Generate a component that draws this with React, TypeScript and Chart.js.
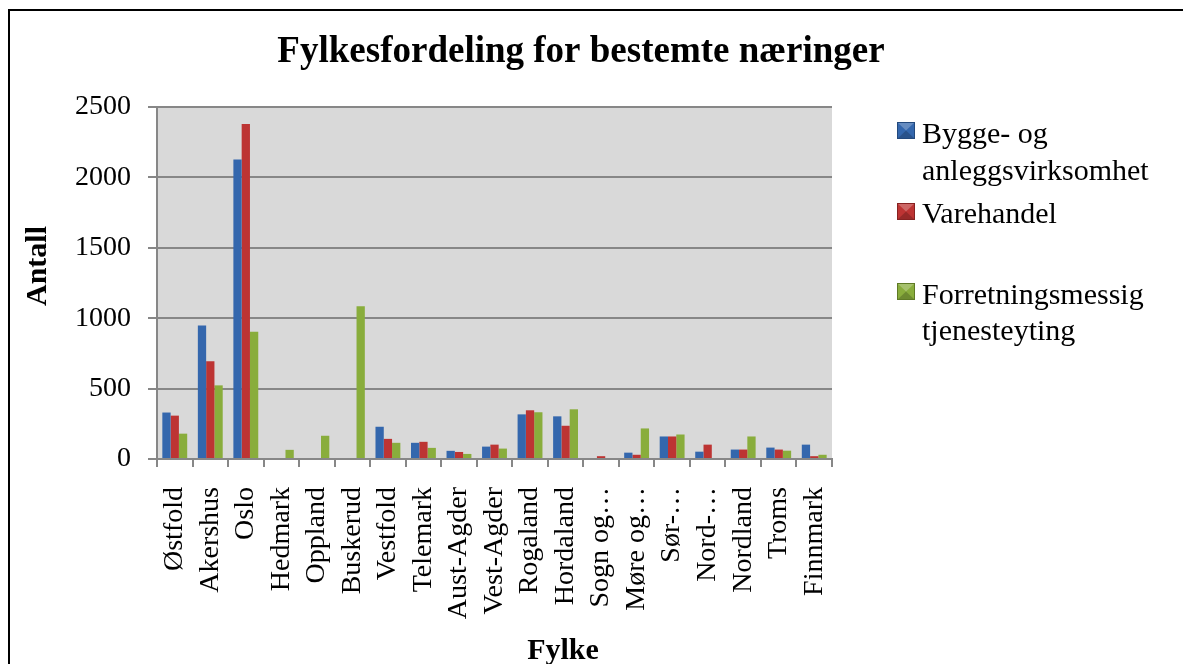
import React, { useEffect, useRef } from "react";
import { Chart, registerables } from "chart.js";

Chart.register(...registerables);

const categories = [
  "Østfold", "Akershus", "Oslo", "Hedmark", "Oppland", "Buskerud", "Vestfold",
  "Telemark", "Aust-Agder", "Vest-Agder", "Rogaland", "Hordaland", "Sogn og…",
  "Møre og…", "Sør-…", "Nord-…", "Nordland", "Troms", "Finnmark",
];
const byggeValues = [330, 948, 2128, 0, 0, 0, 229, 115, 58, 88, 317, 303, 0, 45, 160, 52, 67, 81, 102];
const varehandelValues = [308, 695, 2379, 0, 0, 0, 143, 122, 50, 102, 346, 236, 20, 30, 160, 102, 67, 67, 20];
const forretningValues = [180, 523, 903, 65, 165, 1084, 115, 79, 36, 74, 332, 353, 0, 217, 174, 0, 160, 59, 30];
const yTicks = [0, 500, 1000, 1500, 2000, 2500];
const seriesNames = ["Bygge- og anleggsvirksomhet", "Varehandel", "Forretningsmessig tjenesteyting"];
const legendLines = [["Bygge- og", "anleggsvirksomhet"], ["Varehandel"], ["Forretningsmessig", "tjenesteyting"]];
const chartTitle = "Fylkesfordeling for bestemte næringer";
const xTitle = "Fylke";
const yTitle = "Antall";

const FONT = "'Liberation Serif', 'Times New Roman', serif";
const COLORS = ["#3467ad", "#bd3433", "#89ad3c"];
const DARK = ["#23497d", "#862221", "#5f7a26"];
const GRID = "#878787";

const decorPlugin = {
  id: "decor",
  beforeDraw(chart: any) {
    const { ctx, chartArea: a } = chart;
    ctx.save();
    ctx.fillStyle = "#d9d9d9";
    ctx.fillRect(a.left, a.top, a.right - a.left, a.bottom - a.top);
    ctx.restore();
  },
  afterDraw(chart: any) {
    const ctx = chart.ctx;
    ctx.save();
    ctx.fillStyle = "#000";
    ctx.textBaseline = "alphabetic";
    ctx.textAlign = "center";
    ctx.font = `bold 37px ${FONT}`;
    ctx.fillText(chartTitle, 581, 62);
    ctx.font = `bold 30px ${FONT}`;
    ctx.fillText(xTitle, 563, 659);
    ctx.save();
    ctx.translate(46, 266);
    ctx.rotate(-Math.PI / 2);
    ctx.fillText(yTitle, 0, 0);
    ctx.restore();

    // legend
    const markerTops = [122, 203, 283];
    const baselines = [[143, 180], [223], [304, 340]];
    ctx.textAlign = "left";
    ctx.font = `30px ${FONT}`;
    for (let i = 0; i < seriesNames.length; i++) {
      const x = 897, y = markerTops[i], w = 18, h = 17;
      ctx.fillStyle = COLORS[i];
      ctx.fillRect(x, y, w, h);
      ctx.fillStyle = "rgba(255,255,255,0.25)";
      ctx.beginPath();
      ctx.moveTo(x, y); ctx.lineTo(x + w, y); ctx.lineTo(x + w / 2, y + h / 2); ctx.closePath();
      ctx.fill();
      ctx.fillStyle = "rgba(0,0,0,0.2)";
      ctx.beginPath();
      ctx.moveTo(x, y + h); ctx.lineTo(x + w, y + h); ctx.lineTo(x + w / 2, y + h / 2); ctx.closePath();
      ctx.fill();
      ctx.strokeStyle = DARK[i];
      ctx.lineWidth = 1;
      ctx.strokeRect(x + 0.5, y + 0.5, w - 1, h - 1);
      ctx.fillStyle = "#000";
      legendLines[i].forEach((line, j) => ctx.fillText(line, 922, baselines[i][j]));
    }
    ctx.restore();
  },
};

export default function App() {
  const ref = useRef<HTMLCanvasElement | null>(null);
  useEffect(() => {
    if (!ref.current) return;
    const series = [byggeValues, varehandelValues, forretningValues];
    const chart = new Chart(ref.current, {
      type: "bar",
      data: {
        labels: categories,
        datasets: series.map((vals, i) => ({
          label: seriesNames[i],
          data: vals,
          backgroundColor: COLORS[i],
          borderColor: DARK[i],
          borderWidth: 0,
          categoryPercentage: 0.7,
          barPercentage: 1,
        })),
      },
      options: {
        responsive: false,
        animation: false,
        layout: { padding: { left: 0, top: 107, right: 351, bottom: 0 } },
        plugins: {
          legend: { display: false },
          title: { display: false },
          tooltip: { enabled: false },
        },
        scales: {
          x: {
            type: "category",
            offset: true,
            grid: { offset: true, drawOnChartArea: false, drawTicks: true, tickLength: 8, color: GRID, lineWidth: 2 },
            border: { color: GRID, width: 2 },
            ticks: {
              autoSkip: false,
              minRotation: 90,
              maxRotation: 90,
              padding: 20,
              color: "#000",
              font: { family: FONT, size: 28 },
            },
            afterFit(s: any) { s.height = 205; },
          },
          y: {
            min: 0,
            max: 2500,
            afterBuildTicks(s: any) { s.ticks = yTicks.map((v) => ({ value: v })); },
            grid: { color: GRID, lineWidth: 2, tickLength: 9, drawTicks: true },
            border: { color: GRID, width: 2 },
            ticks: {
              padding: 17,
              color: "#000",
              font: { family: FONT, size: 28 },
              callback: (v: any) => String(v),
            },
            afterFit(s: any) { s.width = 157; },
          },
        },
      },
      plugins: [decorPlugin],
    } as any);
    return () => chart.destroy();
  }, []);

  return (
    <div style={{ position: "fixed", left: 0, top: 0, width: 1183, height: 664, overflow: "hidden", background: "#fff" }}>
      <div style={{ position: "absolute", left: 8, top: 9, width: 1300, height: 800, border: "2px solid #000" }} />
      <canvas ref={ref} width={1183} height={664} style={{ position: "absolute", left: 0, top: 0, width: 1183, height: 664, display: "block" }} />
    </div>
  );
}
